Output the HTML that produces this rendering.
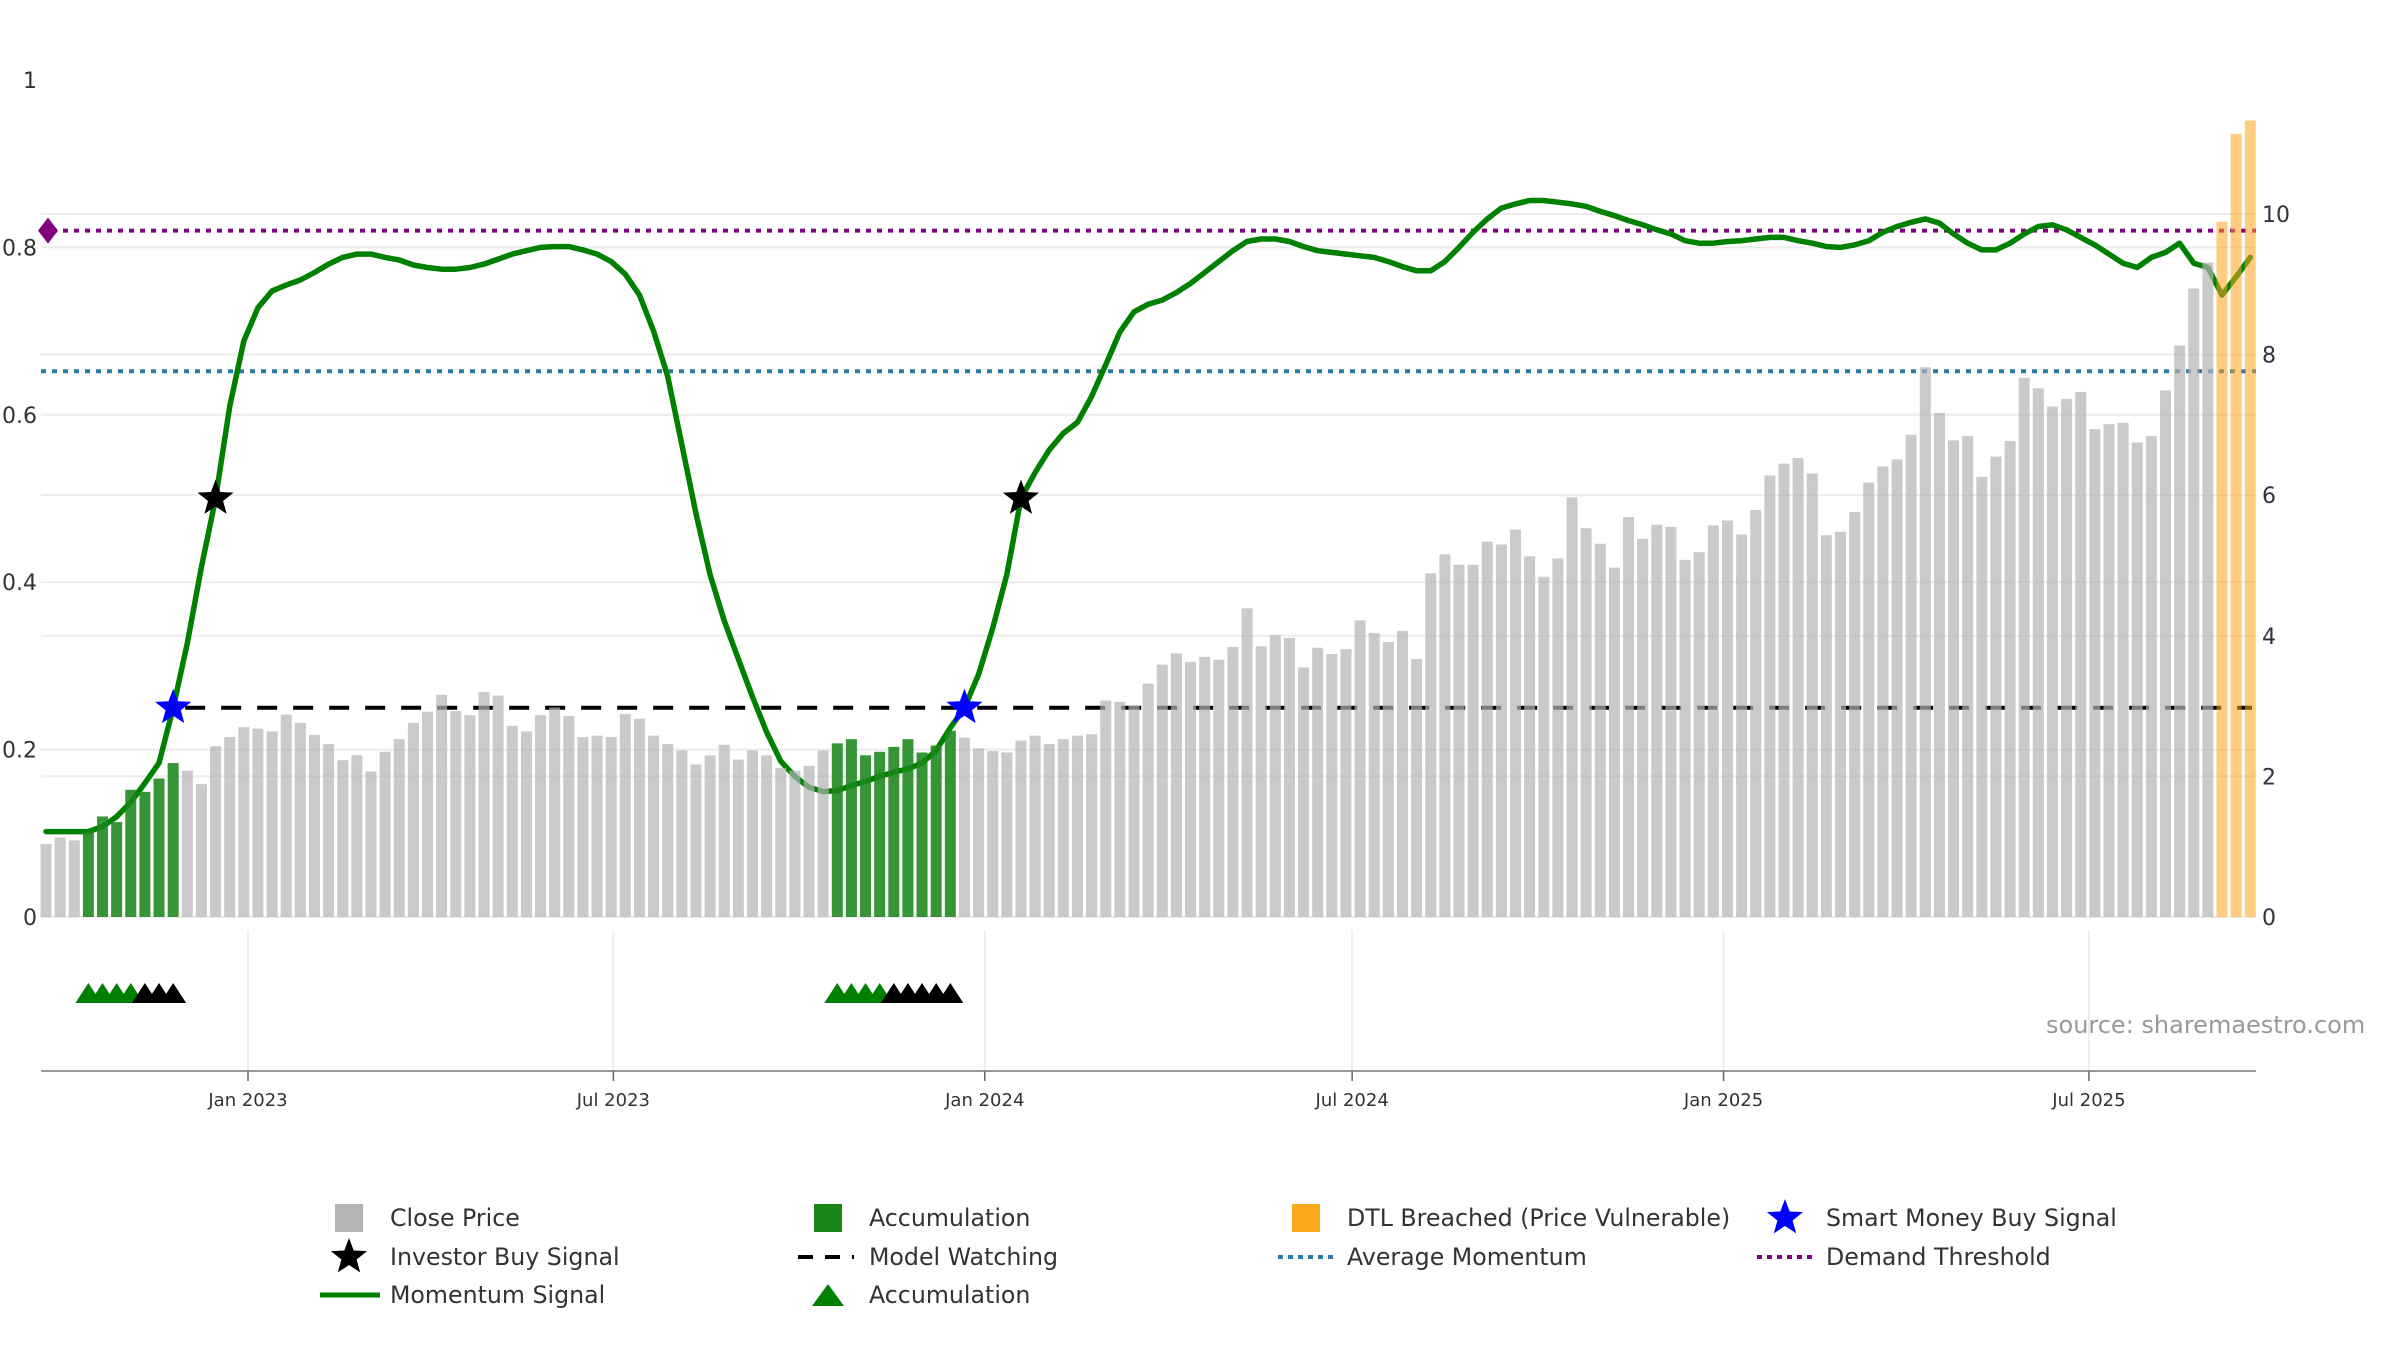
<!DOCTYPE html>
<html><head><meta charset="utf-8">
<style>
html,body{margin:0;padding:0;background:#fff;}
svg{display:block;font-family:"DejaVu Sans","Liberation Sans",sans-serif;}
</style></head>
<body>
<svg id="chart" width="2400" height="1350" viewBox="0 0 2400 1350" xmlns="http://www.w3.org/2000/svg">
<g id="grid"></g>
<g id="lines"></g>
<g id="momentum"></g>
<g id="bars"></g>
<g id="markers"></g>
<g id="axes"></g>
<text x="2046" y="1033" font-size="24" fill="#999">source: sharemaestro.com</text>
<g id="legend"></g>
</svg>
<script>
const closePrices = [1.04,1.13,1.09,1.22,1.43,1.35,1.81,1.78,1.97,2.19,
2.08,1.89,2.43,2.56,2.70,2.68,2.64,2.88,2.76,2.59,
2.46,2.23,2.30,2.07,2.35,2.53,2.76,2.92,3.16,2.93,
2.87,3.20,3.15,2.72,2.64,2.87,2.98,2.86,2.56,2.58,
2.56,2.89,2.82,2.58,2.46,2.37,2.17,2.30,2.45,2.24,
2.37,2.30,2.12,2.08,2.15,2.37,2.47,2.53,2.30,2.35,
2.42,2.53,2.34,2.44,2.65,2.55,2.40,2.36,2.34,2.51,
2.58,2.46,2.53,2.58,2.60,3.08,3.06,3.01,3.32,3.59,
3.75,3.63,3.70,3.66,3.84,4.39,3.85,4.01,3.97,3.55,
3.83,3.74,3.81,4.22,4.04,3.91,4.07,3.67,4.89,5.16,
5.01,5.01,5.34,5.30,5.51,5.13,4.84,5.10,5.97,5.53,
5.31,4.97,5.69,5.38,5.58,5.55,5.08,5.19,5.57,5.64,
5.44,5.79,6.28,6.45,6.53,6.31,5.43,5.48,5.76,6.18,
6.41,6.51,6.86,7.82,7.17,6.78,6.84,6.26,6.55,6.77,
7.67,7.52,7.26,7.37,7.47,6.94,7.01,7.03,6.75,6.84,
7.49,8.13,8.94,9.31,9.89,11.14,11.33];
const momentum = [0.102,0.102,0.102,0.102,0.108,0.12,0.137,0.16,0.184,0.25,
0.327,0.418,0.50,0.61,0.688,0.728,0.748,0.755,0.761,0.77,
0.78,0.788,0.792,0.792,0.788,0.785,0.779,0.776,0.774,0.774,
0.776,0.78,0.786,0.792,0.796,0.80,0.801,0.801,0.797,0.792,
0.783,0.768,0.743,0.70,0.646,0.564,0.482,0.409,0.354,0.308,
0.263,0.221,0.186,0.168,0.155,0.15,0.151,0.157,0.162,0.168,
0.173,0.177,0.184,0.199,0.226,0.25,0.29,0.345,0.409,0.50,
0.531,0.558,0.578,0.591,0.622,0.66,0.699,0.723,0.732,0.737,
0.746,0.757,0.77,0.783,0.796,0.807,0.81,0.81,0.807,0.801,
0.796,0.794,0.792,0.79,0.788,0.783,0.777,0.772,0.772,0.783,
0.80,0.818,0.834,0.847,0.852,0.856,0.856,0.854,0.852,0.849,
0.843,0.838,0.832,0.827,0.821,0.816,0.808,0.805,0.805,0.807,
0.808,0.81,0.812,0.812,0.808,0.805,0.801,0.80,0.803,0.808,
0.818,0.825,0.83,0.834,0.829,0.816,0.805,0.797,0.797,0.805,
0.816,0.825,0.827,0.821,0.812,0.803,0.792,0.781,0.776,0.788,
0.794,0.805,0.781,0.776,0.743,0.765,0.788];
const accumulationBars = [3,4,5,6,7,8,9,56,57,58,59,60,61,62,63,64];
const dtlBars = [154,155,156];
const smartMoneyIdx = [9,65];
const investorIdx = [12,69];
const accTriGreen = [3,4,5,6,56,57,58,59];
const accTriBlack = [7,8,9,60,61,62,63,64];
const demandThreshold = 0.82;
const avgMomentum = 0.652;
const watchLevel = 0.25;
const watchStart = 9;
const leftTicks = ["0","0.2","0.4","0.6","0.8","1"];
const leftTickVals = [0,0.2,0.4,0.6,0.8,1];
const rightTickVals = [0,2,4,6,8,10];
const dateTicks = ["2023-01-01","2023-07-01","2024-01-01","2024-07-01","2025-01-01","2025-07-01"];
const dateTickLabels = ["Jan 2023","Jul 2023","Jan 2024","Jul 2024","Jan 2025","Jul 2025"];

const NS="http://www.w3.org/2000/svg";
const PL=41, PR=2256, Y0=917;
function xBar(i){return 46+i*14.13;}
function yL(v){return Y0-v*837;}
function yR(v){return Y0-v*70.3;}
function xDate(s){const d=(Date.parse(s)-Date.parse("2023-01-01"))/86400000;return 248+d*14.13/7;}
function mk(tag,attrs,parent){const e=document.createElementNS(NS,tag);for(const k in attrs)e.setAttribute(k,attrs[k]);parent.appendChild(e);return e;}
function starPts(cx,cy,R){const r=R*0.42;let p=[];for(let k=0;k<10;k++){const a=-Math.PI/2+k*Math.PI/5;const rr=k%2?r:R;p.push((cx+rr*Math.cos(a)).toFixed(1)+","+(cy+rr*Math.sin(a)).toFixed(1));}return p.join(" ");}
function triPts(cx,cy,w,h){return `${cx-w/2},${cy+h/2} ${cx+w/2},${cy+h/2} ${cx},${cy-h/2}`;}

const grid=document.getElementById('grid');
leftTickVals.forEach(v=>{if(v>=1)return;const l=mk('line',{x1:PL,x2:PR,y1:yL(v),y2:yL(v),stroke:'#ececec','stroke-width':2},grid);

});
rightTickVals.forEach(v=>{const l=mk('line',{x1:PL,x2:PR,y1:yR(v),y2:yR(v),stroke:'#ececec','stroke-width':2},grid);

});
dateTicks.forEach(d=>{const x=xDate(d);const l=mk('line',{x1:x,x2:x,y1:930,y2:1071,stroke:'#eeeeee','stroke-width':2},grid);

});

const lines=document.getElementById('lines');
let e=mk('line',{x1:PL,x2:PR,y1:yL(demandThreshold),y2:yL(demandThreshold),stroke:'#800080','stroke-width':4,'stroke-dasharray':'5 6'},lines);


e=mk('path',{d:`M${PL-3},${yL(demandThreshold)} l10,-13 l10,13 l-10,13 z`,fill:'#800080'},lines);


e=mk('line',{x1:PL,x2:PR,y1:yL(avgMomentum),y2:yL(avgMomentum),stroke:'#2b7aa1','stroke-width':4,'stroke-dasharray':'5 6'},lines);


e=mk('line',{x1:xBar(watchStart)+12,x2:2252,y1:yL(watchLevel),y2:yL(watchLevel),stroke:'#000','stroke-width':4,'stroke-dasharray':'20 16'},lines);



const mom=document.getElementById('momentum');
e=mk('polyline',{points:momentum.map((v,i)=>xBar(i).toFixed(1)+","+yL(v).toFixed(1)).join(" "),fill:'none',stroke:'#008000','stroke-width':5.5,'stroke-linejoin':'round','stroke-linecap':'round'},mom);



const bars=document.getElementById('bars');
closePrices.forEach((v,i)=>{
  let fill='#b4b4b4',op=0.7,name='close-price-bar';
  if(accumulationBars.includes(i)){fill='#1a861a';op=0.88;name='accumulation-bar';}
  if(dtlBars.includes(i)){fill='#ffa31a';op=0.55;name='dtl-breached-bar';}
  const b=mk('rect',{x:xBar(i)-5.5,y:yR(v),width:11,height:Y0-yR(v),fill:fill,'fill-opacity':op},bars);
  
  
});

const markers=document.getElementById('markers');
smartMoneyIdx.forEach(i=>{const s=mk('polygon',{points:starPts(xBar(i),yL(momentum[i]),19),fill:'#0000ff'},markers);

});
investorIdx.forEach(i=>{const s=mk('polygon',{points:starPts(xBar(i),yL(momentum[i]),19),fill:'#000'},markers);

});
accTriGreen.forEach(i=>{const t=mk('polygon',{points:triPts(xBar(i),993,26,20),fill:'#008000'},markers);

});
accTriBlack.forEach(i=>{const t=mk('polygon',{points:triPts(xBar(i),993,26,20),fill:'#000'},markers);

});

const axes=document.getElementById('axes');
e=mk('line',{x1:PL,x2:PR,y1:1071,y2:1071,stroke:'#999','stroke-width':2},axes);


leftTickVals.forEach((v,k)=>{const t=mk('text',{x:37,y:yL(v)+8,'font-size':22,fill:'#333','text-anchor':'end'},axes);t.textContent=leftTicks[k];

});
rightTickVals.forEach(v=>{const t=mk('text',{x:2262,y:yR(v)+8,'font-size':22,fill:'#333'},axes);t.textContent=String(v);

});
dateTicks.forEach((d,k)=>{const x=xDate(d);
const tk=mk('line',{x1:x,x2:x,y1:1071,y2:1081,stroke:'#666','stroke-width':1.5},axes);


const t=mk('text',{x:x,y:1106,'font-size':18,fill:'#333','text-anchor':'middle'},axes);t.textContent=dateTickLabels[k];

});

const legend=document.getElementById('legend');
const cols=[349,828,1306,1785], rows=[1218,1257,1295];
function ltext(c,r,s){const t=mk('text',{x:cols[c]+41,y:rows[r]+8,'font-size':23.7,fill:'#333'},legend);t.textContent=s;

}
function lg(el,n){}
lg(mk('rect',{x:cols[0]-14,y:rows[0]-14,width:28,height:28,fill:'#b4b4b4'},legend),'legend-close-price-swatch');ltext(0,0,'Close Price');
lg(mk('rect',{x:cols[1]-14,y:rows[0]-14,width:28,height:28,fill:'#1a861a'},legend),'legend-accumulation-swatch');ltext(1,0,'Accumulation');
lg(mk('rect',{x:cols[2]-14,y:rows[0]-14,width:28,height:28,fill:'#fbaa1f'},legend),'legend-dtl-swatch');ltext(2,0,'DTL Breached (Price Vulnerable)');
lg(mk('polygon',{points:starPts(cols[3],rows[0],19),fill:'#0000ff'},legend),'legend-smart-money-star');ltext(3,0,'Smart Money Buy Signal');
lg(mk('polygon',{points:starPts(cols[0],rows[1],19),fill:'#000'},legend),'legend-investor-star');ltext(0,1,'Investor Buy Signal');
lg(mk('line',{x1:cols[1]-30,x2:cols[1]+26,y1:rows[1],y2:rows[1],stroke:'#000','stroke-width':4,'stroke-dasharray':'15 12'},legend),'legend-model-watching-line');ltext(1,1,'Model Watching');
lg(mk('line',{x1:cols[2]-28,x2:cols[2]+28,y1:rows[1],y2:rows[1],stroke:'#2b7aa1','stroke-width':4,'stroke-dasharray':'5 5'},legend),'legend-average-momentum-line');ltext(2,1,'Average Momentum');
lg(mk('line',{x1:cols[3]-28,x2:cols[3]+28,y1:rows[1],y2:rows[1],stroke:'#800080','stroke-width':4,'stroke-dasharray':'5 5'},legend),'legend-demand-threshold-line');ltext(3,1,'Demand Threshold');
lg(mk('line',{x1:cols[0]-29,x2:cols[0]+31,y1:rows[2],y2:rows[2],stroke:'#008000','stroke-width':5},legend),'legend-momentum-line');ltext(0,2,'Momentum Signal');
lg(mk('polygon',{points:triPts(cols[1],rows[2],32,22),fill:'#008000'},legend),'legend-accumulation-triangle');ltext(1,2,'Accumulation');
</script>
</body></html>
